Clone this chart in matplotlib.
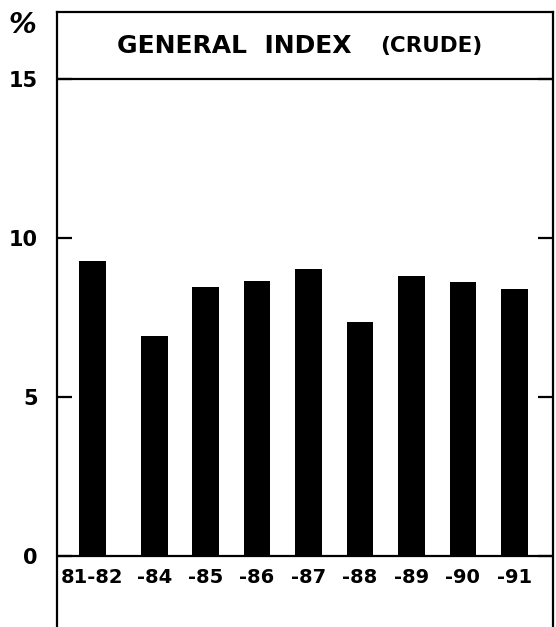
import matplotlib
matplotlib.use("Agg")
import matplotlib.pyplot as plt
import numpy as np

# crude general index, % by year
years = ["81-82", "-84", "-85", "-86", "-87", "-88", "-89", "-90", "-91"]
values = [9.28, 6.93, 8.48, 8.67, 9.05, 7.37, 8.83, 8.63, 8.42]
yticks = [0, 5, 10, 15]

plt.rcParams['font.family'] = ['DejaVu Sans']

fig = plt.figure(figsize=(5.56, 6.27), dpi=100)
ax = fig.add_axes([0.1025, 0.0, 0.892, 0.981])

# first gap is a bit wider than the rest
x = np.arange(len(years)) * 1.0
x[1:] += 0.2

ax.bar(x, values, width=0.52, color='black', zorder=3)
ax.axhline(0, color='black', lw=1.6, zorder=4)
ax.axhline(15, color='black', lw=1.6)

ax.set_xlim(-0.69, 8.95)
ax.set_ylim(-2.22, 17.12)

for s in ['left', 'right', 'top']:
    ax.spines[s].set_linewidth(1.6)
ax.spines['bottom'].set_visible(False)

ax.set_yticks(yticks)
ax.set_yticklabels([str(v) for v in yticks], fontsize=15, fontweight='bold')
ax.tick_params(axis='y', direction='in', length=11, width=1.6,
               left=True, right=True, pad=14)
ax.tick_params(axis='x', length=0)
ax.set_xticks([])

for xi, lab in zip(x, years):
    ax.text(xi, -0.35, lab, ha='center', va='top', fontsize=14,
            fontweight='bold')

ax.text(0.47, 16.05, "GENERAL  INDEX", ha='left', va='center',
        fontsize=18, fontweight='bold')
ax.text(5.6, 16.05, "(CRUDE)", ha='left', va='center', fontsize=15.5,
        fontweight='bold')

fig.text(0.04, 0.96, "%", ha='center', va='center', fontsize=20,
         fontweight='bold', style='italic')

plt.savefig("out.png", dpi=100)
